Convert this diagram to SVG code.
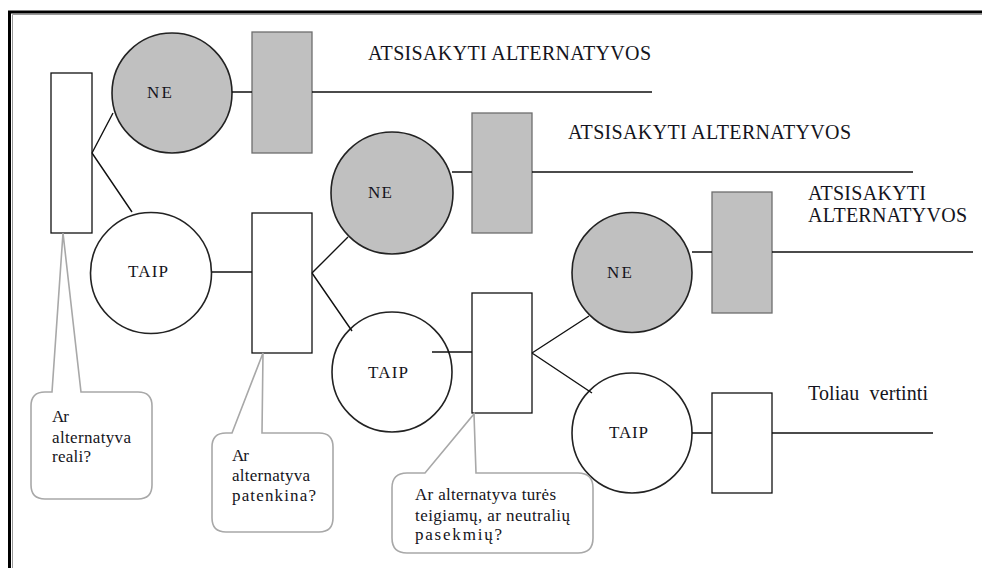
<svg xmlns="http://www.w3.org/2000/svg" width="982" height="568" viewBox="0 0 982 568">
<style>
  .box{fill:#fff;stroke:#111;stroke-width:1.3}
  .gbox{fill:#c0c0c0;stroke:#6e6e6e;stroke-width:1.3}
  .circ{fill:#fff;stroke:#222;stroke-width:1.6}
  .gcirc{fill:#c0c0c0;stroke:#222;stroke-width:1.6}
  .ln{stroke:#111;stroke-width:1.4;fill:none}
  .call{fill:#fff;stroke:#a8a8a8;stroke-width:1.6}
  text{fill:#141420}
  .nt{font-size:17px}
  .big{font-size:20px}
  .ct{font-size:17px}
</style>
<rect width="982" height="568" fill="#fff"/>
<g id="frame">
  <path d="M9.5,568 V12 H982" fill="none" stroke="#000" stroke-width="3"/>
  <path d="M12.5,568 V14.5 H982" fill="none" stroke="#999" stroke-width="1"/>
</g>
<g font-family="'Liberation Serif', 'Times New Roman', 'DejaVu Serif', serif">
<g id="d1"><rect class="box" x="51" y="73" width="41" height="160"/></g>
<g id="ne1"><circle class="gcirc" cx="172" cy="93" r="60"/><text class="nt" x="147" y="98" textLength="25">NE</text></g>
<g id="x1"><rect class="gbox" x="252" y="32" width="60" height="121"/></g>
<g id="taip1"><circle class="circ" cx="151" cy="273" r="60.5"/><text class="nt" x="128" y="277" textLength="40">TAIP</text></g>

<g id="d2"><rect class="box" x="252" y="213" width="60" height="140"/></g>
<g id="ne2"><circle class="gcirc" cx="392" cy="193" r="61"/><text class="nt" x="368" y="198" textLength="24">NE</text></g>
<g id="x2"><rect class="gbox" x="472" y="113" width="60" height="120"/></g>
<g id="taip2"><circle class="circ" cx="392" cy="372" r="60"/><text class="nt" x="368" y="378" textLength="40">TAIP</text></g>

<g id="d3"><rect class="box" x="472" y="293" width="60" height="120"/></g>
<g id="ne3"><circle class="gcirc" cx="632" cy="272.5" r="60"/><text class="nt" x="607" y="278" textLength="25">NE</text></g>
<g id="x3"><rect class="gbox" x="712" y="192" width="60" height="121"/></g>
<g id="taip3"><circle class="circ" cx="632" cy="433" r="60"/><text class="nt" x="609" y="438" textLength="39">TAIP</text></g>
<g id="d4"><rect class="box" x="712" y="393" width="60" height="100"/></g>

<g id="connectors">
  <path class="ln" d="M92,153 L113,113 M92,153 L132,212"/>
  <path class="ln" d="M312,273 L348,237 M312,273 L352,331"/>
  <path class="ln" d="M532,353 L589,316 M532,353 L592,393"/>
  <path class="ln" d="M232,92 H252 M312,92 H652"/>
  <path class="ln" d="M212,272 H252"/>
  <path class="ln" d="M452,172 H472 M532,172 H913"/>
  <path class="ln" d="M432,352 H472"/>
  <path class="ln" d="M692,252 H712 M772,252 H973"/>
  <path class="ln" d="M692,433 H712 M772,433 H933"/>
</g>

<g id="labels">
  <text class="big" x="368" y="60" textLength="283">ATSISAKYTI ALTERNATYVOS</text>
  <text class="big" x="568" y="139" textLength="283">ATSISAKYTI ALTERNATYVOS</text>
  <text class="big" x="808" y="200" textLength="118">ATSISAKYTI</text>
  <text class="big" x="808" y="222" textLength="159">ALTERNATYVOS</text>
  <text class="big" x="808" y="400" textLength="120" xml:space="preserve">Toliau  vertinti</text>
</g>

<g id="callout1">
  <path class="call" d="M45,392 L52,392 L63,233 L81,392 L138,392 Q152,392 152,406 L152,485 Q152,499 138,499 L45,499 Q31,499 31,485 L31,406 Q31,392 45,392 Z"/>
  <text class="ct" x="52" y="422" textLength="17">Ar</text>
  <text class="ct" x="52" y="443" textLength="79">alternatyva</text>
  <text class="ct" x="52" y="462" textLength="39">reali?</text>
</g>
<g id="callout2">
  <path class="call" d="M226,433 L232,433 L263,353 L262,433 L319,433 Q333,433 333,447 L333,518 Q333,532 319,532 L226,532 Q212,532 212,518 L212,447 Q212,433 226,433 Z"/>
  <text class="ct" x="232" y="461" textLength="17">Ar</text>
  <text class="ct" x="232" y="481" textLength="78">alternatyva</text>
  <text class="ct" x="232" y="501" textLength="84">patenkina?</text>
</g>
<g id="callout3">
  <path class="call" d="M407,473 L425,473 L474,414 L476,473 L578,473 Q593,473 593,488 L593,538 Q593,553 578,553 L407,553 Q392,553 392,538 L392,488 Q392,473 407,473 Z"/>
  <text class="ct" x="415" y="500" textLength="141">Ar alternatyva turės</text>
  <text class="ct" x="415" y="521" textLength="155">teigiamų, ar neutralių</text>
  <text class="ct" x="415" y="540" textLength="87">pasekmių?</text>
</g>
</g>
</svg>
